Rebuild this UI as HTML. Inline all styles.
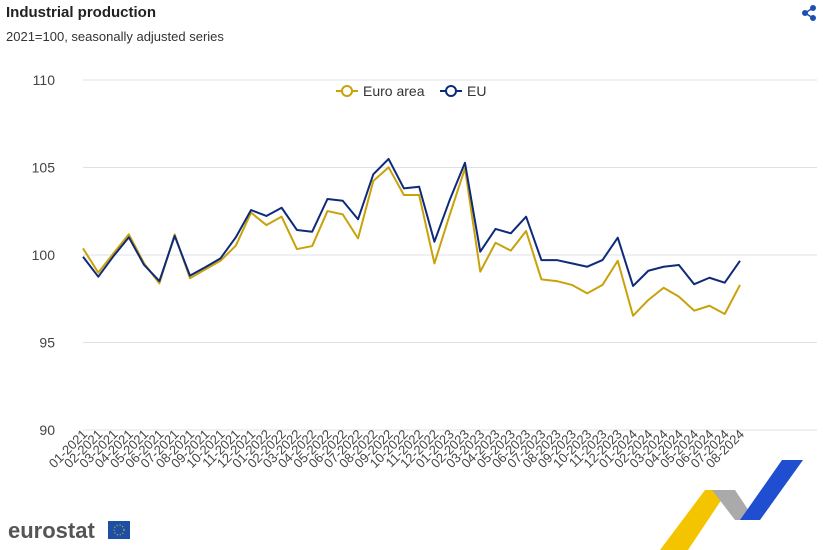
<!DOCTYPE html>
<html><head><meta charset="utf-8"><style>
body{margin:0;width:823px;height:550px;background:#fff;font-family:"Liberation Sans",sans-serif;overflow:hidden;position:relative}
.t{position:absolute;left:6px;top:4px;font-weight:bold;font-size:15px;color:#222}
.s{position:absolute;left:6px;top:29px;font-size:13px;color:#333}
</style></head><body>
<div class="t">Industrial production</div>
<div class="s">2021=100, seasonally adjusted series</div>
<svg width="823" height="550" style="position:absolute;left:0;top:0" id="svg">
<g fill="#1f4fb5" stroke="#1f4fb5">
<circle cx="813" cy="8" r="2.5"/><circle cx="805" cy="13" r="2.5"/><circle cx="813" cy="18" r="2.5"/>
<line x1="813" y1="8" x2="805" y2="13" stroke-width="1.5"/><line x1="805" y1="13" x2="813" y2="18" stroke-width="1.5"/></g>
<g id="grid"></g><g id="lines"></g><g id="xl"></g>
<g font-size="14" fill="#333">
<g><line x1="336" y1="91" x2="358" y2="91" stroke="#c9a20a" stroke-width="2"/><circle cx="347" cy="91" r="5" fill="#fff" stroke="#c9a20a" stroke-width="2"/><text x="363" y="96">Euro area</text></g>
<g><line x1="440" y1="91" x2="462" y2="91" stroke="#0e2a7a" stroke-width="2"/><circle cx="451" cy="91" r="5" fill="#fff" stroke="#0e2a7a" stroke-width="2"/><text x="467" y="96">EU</text></g>
</g>
<g><text x="8" y="538" font-size="22" font-weight="bold" fill="#555">eurostat</text>
<rect x="108" y="521" width="22" height="18" fill="#1d4fa5"/><circle cx="119" cy="530" r="5" fill="none" stroke="#f5d000" stroke-dasharray="1 2"/></g>
<g>
<polygon points="660,550 705,490 728,490 688,550" fill="#f5c400"/>
<polygon points="712,490 735,490 755,520 735,520" fill="#aaa"/>
<polygon points="740,520 782,460 803,460 760,520" fill="#1f4fd0"/></g>
</svg>
<script>
const months=["01-2021","02-2021","03-2021","04-2021","05-2021","06-2021","07-2021","08-2021","09-2021","10-2021","11-2021","12-2021","01-2022","02-2022","03-2022","04-2022","05-2022","06-2022","07-2022","08-2022","09-2022","10-2022","11-2022","12-2022","01-2023","02-2023","03-2023","04-2023","05-2023","06-2023","07-2023","08-2023","09-2023","10-2023","11-2023","12-2023","01-2024","02-2024","03-2024","04-2024","05-2024","06-2024","07-2024","08-2024"];
const euroArea=[100.38,98.99,100.1,101.18,99.52,98.38,101.18,98.67,99.18,99.67,100.53,102.42,101.71,102.19,100.34,100.51,102.51,102.32,100.95,104.23,105.01,103.43,103.43,99.52,102.29,104.95,99.05,100.7,100.25,101.37,98.61,98.51,98.29,97.81,98.29,99.67,96.53,97.43,98.13,97.62,96.82,97.1,96.63,98.29];
const eu=[99.9,98.76,99.94,101.01,99.43,98.51,101.09,98.82,99.3,99.81,101.01,102.57,102.23,102.7,101.43,101.33,103.2,103.1,102.04,104.61,105.49,103.81,103.9,100.76,103.14,105.27,100.19,101.49,101.24,102.19,99.71,99.71,99.52,99.33,99.71,100.99,98.23,99.1,99.33,99.43,98.33,98.7,98.42,99.67];
const yTicks=[90,95,100,105,110];
const NS="http://www.w3.org/2000/svg";
const X=i=>83+i*(657/43), Y=v=>430-(v-90)*17.5;
function mk(t,a,p){const e=document.createElementNS(NS,t);for(const k in a)e.setAttribute(k,a[k]);p.appendChild(e);return e;}
const g=document.getElementById('grid');
yTicks.forEach(v=>{
const l=mk('line',{x1:83,x2:817,y1:Y(v),y2:Y(v),stroke:'#dde0ea','stroke-width':1},g);


const t=mk('text',{x:55,y:Y(v)+5,'text-anchor':'end','font-size':14,fill:'#444'},g);t.textContent=v;


});
const xl=document.getElementById('xl');
months.forEach((m,i)=>{
const t=mk('text',{x:X(i)+5,y:435,'text-anchor':'end','font-size':13,fill:'#444',transform:`rotate(-45 ${X(i)+5} 435)`},xl);t.textContent=m;


});
const L=document.getElementById('lines');
[[euroArea,'#c9a20a','euro-area-line'],[eu,'#0e2a7a','eu-line']].forEach(([d,c,n])=>{
const p=mk('polyline',{points:d.map((v,i)=>X(i)+','+Y(v)).join(' '),fill:'none',stroke:c,'stroke-width':2,'stroke-linejoin':'round'},L);


});
</script>
</body></html>
